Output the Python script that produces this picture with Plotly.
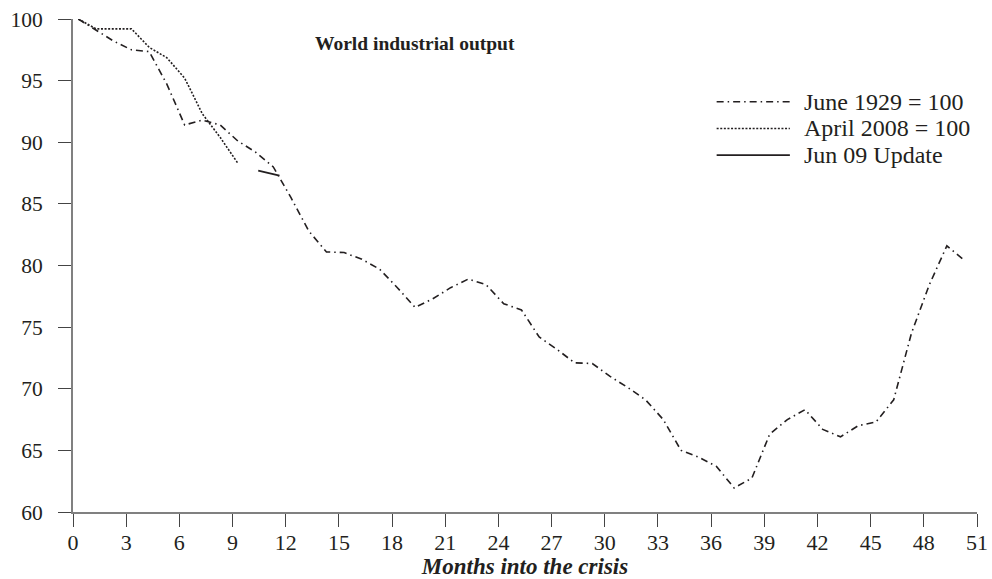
import plotly.graph_objects as go

# ---- data ----
months_1929 = list(range(51))
output_1929 = [100.0, 99.1, 98.2, 97.5, 97.35, 94.7, 91.4, 91.8, 91.4, 90.1,
               89.2, 88.0, 85.5, 82.8, 81.1, 81.05, 80.5, 79.7, 78.2, 76.6,
               77.3, 78.2, 78.9, 78.45, 76.9, 76.4, 74.2, 73.2, 72.1, 72.05,
               71.0, 70.1, 69.1, 67.5, 65.0, 64.45, 63.7, 61.95, 62.75, 66.3,
               67.5, 68.3, 66.7, 66.1, 67.0, 67.3, 69.1, 74.5, 78.4, 81.6,
               80.4]

months_2008 = list(range(10))
output_2008 = [100.0, 99.2, 99.2, 99.2, 97.7, 96.85, 95.2, 92.3, 90.4, 88.3]

months_update = [10.15, 11.35]
output_update = [87.7, 87.3]

series_names = ["June 1929 = 100", "April 2008 = 100", "Jun 09 Update"]

x_ticks = list(range(0, 52, 3))
y_ticks = [60, 65, 70, 75, 80, 85, 90, 95, 100]

OFFSET = 0.3  # points sit a little right of the month tick in the reference

FONT = "Liberation Serif, Times New Roman, serif"
INK = "#231f20"
DASHES = ["7px,4px,1.5px,4px", "2px,1.6px", "solid"]
WIDTHS = [1.6, 1.6, 1.8]

fig = go.Figure()
series = [(months_1929, output_1929), (months_2008, output_2008),
          (months_update, output_update)]
for (mx, vy), name, dash, w in zip(series, series_names, DASHES, WIDTHS):
    fig.add_trace(go.Scatter(
        x=[m + OFFSET for m in mx], y=vy, mode="lines", name=name,
        line=dict(color=INK, width=w, dash=dash),
        cliponaxis=False, showlegend=False))

# legend drawn as key lines + labels (long line samples like the reference)
legend_x0, legend_x1, legend_tx = 0.712, 0.793, 0.8065
legend_rows = [0.832, 0.778, 0.724]
for name, dash, w, ly in zip(series_names, DASHES, WIDTHS, legend_rows):
    fig.add_shape(type="line", xref="paper", yref="paper",
                  x0=legend_x0, x1=legend_x1, y0=ly, y1=ly,
                  line=dict(color=INK, width=w, dash=dash))
    fig.add_annotation(text=name, xref="paper", yref="paper", x=legend_tx, y=ly,
                       xanchor="left", yanchor="middle", showarrow=False,
                       font=dict(family=FONT, size=24, color=INK))

fig.update_layout(
    width=992, height=579,
    margin=dict(l=73, r=15, t=19, b=67, autoexpand=False),
    paper_bgcolor="white", plot_bgcolor="white",
    font=dict(family=FONT, size=22, color=INK),
    title=dict(text="World industrial output", xref="paper", x=0.378,
               xanchor="center", yref="container", y=1 - 43 / 579,
               yanchor="middle", automargin=False,
               font=dict(family=FONT, size=19.5, weight="bold", color=INK)),
    showlegend=False,
)

fig.update_xaxes(
    range=[0, 51], tickmode="array", tickvals=x_ticks,
    ticktext=[str(v) for v in x_ticks],
    showgrid=False, zeroline=False, automargin=False,
    showline=True, linecolor="#808080", linewidth=2,
    ticks="outside", ticklen=13, tickcolor="#444444", tickwidth=1,
    ticklabelstandoff=-3,
    tickfont=dict(family=FONT, size=22, color=INK),
    title=dict(text="Months into the crisis", standoff=8,
               font=dict(family=FONT, size=23, weight="bold", style="italic", color=INK)),
)
fig.update_yaxes(
    range=[60, 100], tickmode="array", tickvals=y_ticks,
    ticktext=[str(v) for v in y_ticks],
    showgrid=False, zeroline=False, automargin=False,
    showline=True, linecolor="#808080", linewidth=2,
    ticks="outside", ticklen=13, tickcolor="#444444", tickwidth=1,
    ticklabelstandoff=11,
    tickfont=dict(family=FONT, size=21.5, color=INK),
)

fig.write_html("out.html", config={"displayModeBar": False},
               post_script="document.body.style.margin='0';document.body.style.padding='0';")
